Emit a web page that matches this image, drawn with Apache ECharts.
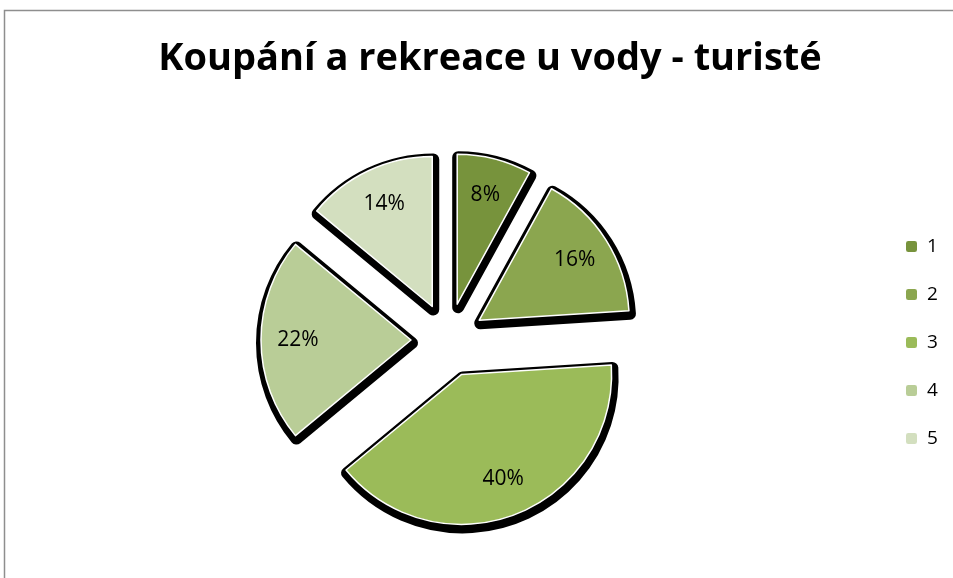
<!DOCTYPE html>
<html>
<head>
<meta charset="utf-8">
<script src="https://cdn.jsdelivr.net/npm/echarts@6/dist/echarts.min.js"></script>
<style>
  html, body { margin: 0; padding: 0; background: #fff; }
  #chart { width: 953px; height: 578px; }
</style>
</head>
<body>
<div id="chart"></div>
<script>
// Share of answers per category (percent)
const categories = ['1', '2', '3', '4', '5'];
const shares = [8, 16, 40, 22, 14];
const colors = ['#77933c', '#8ba64f', '#9bbb59', '#b9cd97', '#d3dfbf'];
const titleText = 'Koupání a rekreace u vody - turisté';

const center = [448, 340];
const R = 150;
const explode = 37;

function slices(withColor) {
  return categories.map((c, i) => {
    const d = { name: c, value: shares[i], selected: true };
    if (withColor) d.itemStyle = { color: colors[i] };
    return d;
  });
}

const pieBase = {
  type: 'pie',
  startAngle: 90,
  clockwise: true,
  selectedMode: 'multiple',
  selectedOffset: explode,
  silent: true,
  legendHoverLink: false,
  labelLine: { show: false }
};

const chart = echarts.init(document.getElementById('chart'), null, { renderer: 'canvas' });
chart.setOption({
  animation: false,
  backgroundColor: '#fff',
  title: {
    text: titleText,
    left: 485,
    textAlign: 'center',
    top: 35,
    textStyle: {
      fontFamily: 'Open Sans',
      fontWeight: 'bold',
      fontSize: 38,
      color: '#000'
    }
  },
  legend: {
    orient: 'vertical',
    left: 899,
    top: 232,
    itemWidth: 13,
    itemHeight: 13,
    itemGap: 29,
    selectedMode: false,
    data: categories,
    textStyle: { fontFamily: 'Open Sans', fontSize: 19, color: '#000', padding: [0, 0, 0, 4] }
  },
  graphic: [{
    type: 'rect',
    silent: true,
    shape: { x: 4.5, y: 10.5, width: 1000, height: 700 },
    style: { fill: 'none', stroke: '#8e8e8e', lineWidth: 1.5 }
  }],
  series: [
    Object.assign({}, pieBase, {
      name: 'slices',
      z: 3,
      center: center,
      radius: [0, R],
      label: { show: false },
      itemStyle: { borderColor: '#fff', borderWidth: 1.5 },
      data: slices(true)
    }),
    // dark drop shadow underneath each slice
    Object.assign({}, pieBase, {
      name: 'shadow',
      z: 1,
      center: [center[0] + 1, center[1] + 3],
      radius: [0, R],
      label: { show: false },
      itemStyle: { color: '#000', borderColor: '#000', borderWidth: 12, borderJoin: 'round' },
      data: slices(false)
    }),
    // value labels placed at ~3/4 of the radius
    Object.assign({}, pieBase, {
      name: 'labels',
      z: 4,
      center: center,
      radius: [70, R],
      itemStyle: { color: 'rgba(0,0,0,0)' },
      label: {
        show: true,
        position: 'inside',
        formatter: '{c}%',
        fontFamily: 'Open Sans',
        fontSize: 21,
        color: '#000'
      },
      data: slices(false)
    })
  ]
});
</script>
</body>
</html>
